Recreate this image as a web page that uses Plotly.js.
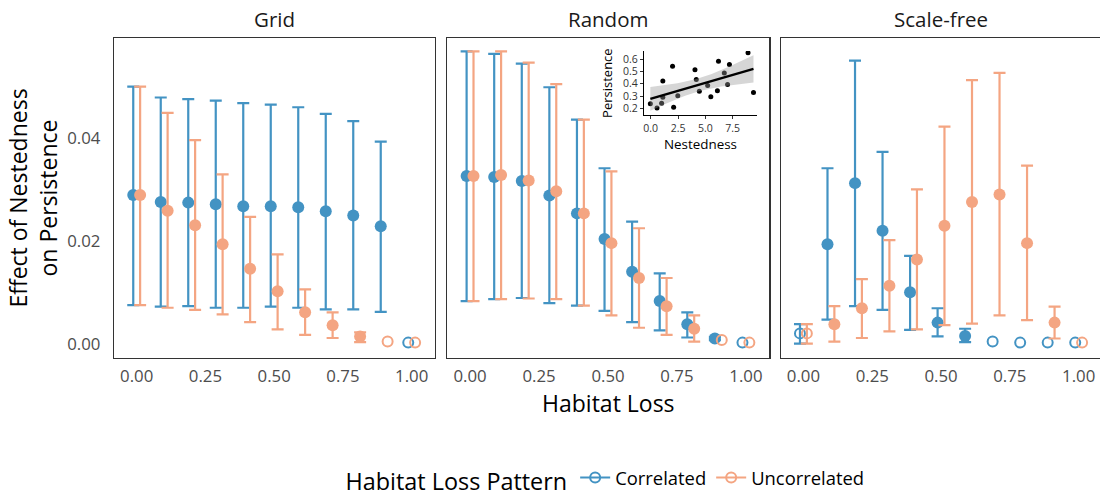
<!DOCTYPE html>
<html><head><meta charset="utf-8">
<script src="https://cdn.plot.ly/plotly-3.0.1.min.js"></script>
<style>html,body{margin:0;padding:0;overflow:hidden;background:#fff}#chart{width:1102px;height:497px}</style>
</head><body><div id="chart"></div>
<script>
// ---------- data ----------
const lossLevels = [0, 0.1, 0.2, 0.3, 0.4, 0.5, 0.6, 0.7, 0.8, 0.9, 1.0];
const xTickVals = [0, 0.25, 0.5, 0.75, 1.0];
const yTickVals = [0, 0.02, 0.04];
const panelNames = ['Grid', 'Random', 'Scale-free'];
const seriesNames = ['Correlated', 'Uncorrelated'];

// Grid
const gridCorrMean  = [0.0290,0.0276,0.0275,0.0272,0.0268,0.0268,0.0266,0.0258,0.0250,0.0229,0.0002];
const gridCorrUpper = [0.0501,0.0480,0.0477,0.0474,0.0469,0.0466,0.0461,0.0448,0.0434,0.0394,null];
const gridCorrLower = [0.0075,0.0072,0.0073,0.0070,0.0070,0.0072,0.0070,0.0067,0.0067,0.0062,null];
const gridCorrSig   = [1,1,1,1,1,1,1,1,1,1,0];
const gridUncMean   = [0.0290,0.0259,0.0231,0.0194,0.0146,0.0102,0.0061,0.0036,0.0014,0.0004,0.0002];
const gridUncUpper  = [0.0501,0.0450,0.0397,0.0330,0.0247,0.0174,0.0106,0.0061,0.0022,null,null];
const gridUncLower  = [0.0075,0.0070,0.0066,0.0057,0.0042,0.0028,0.0017,0.0011,0.0003,null,null];
const gridUncSig    = [1,1,1,1,1,1,1,1,1,0,0];

// Random
const randCorrMean  = [0.0327,0.0325,0.0317,0.0289,0.0254,0.0204,0.0140,0.0083,0.0038,0.0010,0.0002];
const randCorrUpper = [0.0570,0.0565,0.0546,0.0500,0.0437,0.0342,0.0238,0.0137,0.0061,0.0013,null];
const randCorrLower = [0.0083,0.0087,0.0089,0.0079,0.0074,0.0064,0.0042,0.0026,0.0012,0.0007,null];
const randCorrSig   = [1,1,1,1,1,1,1,1,1,1,0];
const randUncMean   = [0.0327,0.0329,0.0318,0.0297,0.0254,0.0196,0.0128,0.0073,0.0029,0.0007,0.0002];
const randUncUpper  = [0.0570,0.0570,0.0548,0.0506,0.0437,0.0336,0.0225,0.0128,0.0055,null,null];
const randUncLower  = [0.0083,0.0087,0.0088,0.0087,0.0074,0.0055,0.0031,0.0017,0.0004,null,null];
const randUncSig    = [1,1,1,1,1,1,1,1,1,0,0];

// Scale-free
const sfCorrMean  = [0.0020,0.0194,0.0313,0.0220,0.0100,0.0041,0.0015,0.0004,0.0002,0.0002,0.0002];
const sfCorrUpper = [0.0038,0.0342,0.0552,0.0374,0.0171,0.0069,0.0029,null,null,null,null];
const sfCorrLower = [0.0000,0.0047,0.0073,0.0066,0.0027,0.0014,0.0003,null,null,null,null];
const sfCorrSig   = [0,1,1,1,1,1,1,0,0,0,0];
const sfUncMean   = [0.0020,0.0038,0.0069,0.0113,0.0164,0.0230,0.0276,0.0291,0.0196,0.0041,0.0002];
const sfUncUpper  = [0.0038,0.0073,0.0126,0.0202,0.0301,0.0423,0.0514,0.0528,0.0347,0.0072,null];
const sfUncLower  = [0.0000,0.0004,0.0011,0.0024,0.0028,0.0036,0.0039,0.0055,0.0046,0.0010,null];
const sfUncSig    = [0,1,1,1,1,1,1,1,1,1,0];

// Inset: nestedness vs persistence
const nestedness  = [-0.03,0.58,1.00,1.11,1.11,2.00,2.10,2.48,4.05,4.17,4.45,5.21,5.50,6.10,6.20,6.73,7.03,7.20,8.90,9.40];
const persistence = [0.238,0.203,0.243,0.423,0.290,0.542,0.210,0.303,0.514,0.434,0.340,0.386,0.294,0.344,0.583,0.488,0.395,0.556,0.651,0.330];
const insetXTicks = [0, 2.5, 5, 7.5];
const insetYTicks = [0.2, 0.3, 0.4, 0.5, 0.6];

// ---------- styles ----------
const COL_CORR = '#4393C3';
const COL_UNC  = '#F4A582';
const DODGE = 0.0125;
const FONT = 'Open Sans, Noto Sans, sans-serif';

function seriesTraces(mean, upper, lower, sig, color, xa, ya, offset) {
  // groups: filled with bars, open with bars, open without bars
  const g = {fill:{x:[],y:[],p:[],m:[]}, openBar:{x:[],y:[],p:[],m:[]}, openNo:{x:[],y:[]}};
  for (let i = 0; i < lossLevels.length; i++) {
    const hasBar = upper[i] != null && lower[i] != null;
    const key = sig[i] ? 'fill' : (hasBar ? 'openBar' : 'openNo');
    const t = g[key];
    t.x.push(lossLevels[i] + offset);
    t.y.push(mean[i]);
    if (t.p) { t.p.push(upper[i] - mean[i]); t.m.push(mean[i] - lower[i]); }
  }
  const eb = (t) => ({type:'data', symmetric:false, array:t.p, arrayminus:t.m,
                      color:color, thickness:2.2, width:6});
  const filledMarker = {color:color, size:12, symbol:'circle'};
  const openMarker = {color:color, size:10, symbol:'circle-open', line:{color:color, width:2}};
  const out = [];
  if (g.fill.x.length) out.push({type:'scatter', mode:'markers', x:g.fill.x, y:g.fill.y, xaxis:xa, yaxis:ya,
     marker:filledMarker, error_y:eb(g.fill), showlegend:false, hoverinfo:'skip'});
  if (g.openBar.x.length) out.push({type:'scatter', mode:'markers', x:g.openBar.x, y:g.openBar.y, xaxis:xa, yaxis:ya,
     marker:openMarker, error_y:eb(g.openBar), showlegend:false, hoverinfo:'skip'});
  if (g.openNo.x.length) out.push({type:'scatter', mode:'markers', x:g.openNo.x, y:g.openNo.y, xaxis:xa, yaxis:ya,
     marker:openMarker, showlegend:false, hoverinfo:'skip'});
  return out;
}

const panels = [
  {xa:'x',  ya:'y',  c:[gridCorrMean,gridCorrUpper,gridCorrLower,gridCorrSig], u:[gridUncMean,gridUncUpper,gridUncLower,gridUncSig]},
  {xa:'x2', ya:'y2', c:[randCorrMean,randCorrUpper,randCorrLower,randCorrSig], u:[randUncMean,randUncUpper,randUncLower,randUncSig]},
  {xa:'x3', ya:'y3', c:[sfCorrMean,sfCorrUpper,sfCorrLower,sfCorrSig], u:[sfUncMean,sfUncUpper,sfUncLower,sfUncSig]}
];

let traces = [];
panels.forEach(p => {
  traces = traces.concat(seriesTraces(...p.c, COL_CORR, p.xa, p.ya, -DODGE));
  traces = traces.concat(seriesTraces(...p.u, COL_UNC, p.xa, p.ya, DODGE));
});

// legend-only traces
[[seriesNames[0], COL_CORR], [seriesNames[1], COL_UNC]].forEach(([nm, col]) => {
  traces.push({type:'scatter', mode:'lines+markers', x:[null], y:[null], xaxis:'x', yaxis:'y',
    name:nm, line:{color:col, width:2},
    marker:{color:col, size:10, symbol:'circle-open', line:{color:col, width:2}},
    showlegend:true, hoverinfo:'skip'});
});

// inset: points, fitted line with 95% CI ribbon
(function(){
  const n = nestedness.length;
  const mx = nestedness.reduce((a,b)=>a+b,0)/n;
  const my = persistence.reduce((a,b)=>a+b,0)/n;
  let sxx = 0, sxy = 0;
  for (let i=0;i<n;i++){ sxx += (nestedness[i]-mx)**2; sxy += (nestedness[i]-mx)*(persistence[i]-my); }
  const b = sxy/sxx, a = my - b*mx;
  let sse = 0;
  for (let i=0;i<n;i++){ sse += (persistence[i]-(a+b*nestedness[i]))**2; }
  const s = Math.sqrt(sse/(n-2));
  const tq = 2.100922; // t(0.975, df=18)
  const xmin = Math.min(...nestedness), xmax = Math.max(...nestedness);
  const fx=[], fy=[], up=[], lo=[];
  for (let k=0;k<=80;k++){
    const x = xmin + (xmax-xmin)*k/80;
    const yhat = a + b*x;
    const se = s*Math.sqrt(1/n + (x-mx)**2/sxx);
    fx.push(x); fy.push(yhat); up.push(yhat+tq*se); lo.push(yhat-tq*se);
  }
  traces.push({type:'scatter', mode:'markers', x:nestedness, y:persistence, xaxis:'x4', yaxis:'y4',
    marker:{color:'#000', size:5}, showlegend:false, hoverinfo:'skip'});
  traces.push({type:'scatter', mode:'lines', x:fx.concat(fx.slice().reverse()), y:up.concat(lo.slice().reverse()),
    xaxis:'x4', yaxis:'y4', fill:'toself', fillcolor:'rgba(153,153,153,0.4)', line:{width:0},
    showlegend:false, hoverinfo:'skip'});
  traces.push({type:'scatter', mode:'lines', x:fx, y:fy, xaxis:'x4', yaxis:'y4',
    line:{color:'#000', width:2.5}, showlegend:false, hoverinfo:'skip'});
})();

// ---------- layout ----------
const TICKSIZE = 16.8;
function mainX(domain, extra) {
  return Object.assign({domain:domain, range:[-0.0825, 1.0848], tickvals:xTickVals, tickformat:'.2f',
    showgrid:false, zeroline:false, showline:true, mirror:true, linecolor:'#333', linewidth:1.2,
    ticks:'', ticklabelstandoff:3, tickfont:{family:FONT, size:TICKSIZE, color:'#4d4d4d'}, fixedrange:true}, extra||{});
}
function mainY(anchor, showLabels, extra) {
  return Object.assign({domain:[0,1], anchor:anchor, range:[-0.0028, 0.0596], tickvals:yTickVals, tickformat:'.2f',
    showticklabels:showLabels, showgrid:false, zeroline:false, showline:true, mirror:true,
    linecolor:'#333', linewidth:1.2, ticks:'', ticklabelstandoff:9,
    tickfont:{family:FONT, size:TICKSIZE, color:'#4d4d4d'}, fixedrange:true}, extra||{});
}

const dom = [[0, 0.32490], [0.33735, 0.66326], [0.67480, 1]];

const layout = {
  width:1102, height:497,
  margin:{l:114, r:0, t:38, b:139, pad:0, autoexpand:false},
  paper_bgcolor:'#fff', plot_bgcolor:'#fff',
  font:{family:FONT, color:'#000'},
  showlegend:true,
  legend:{orientation:'h', x:0.4985, xanchor:'center', yref:'container', y:0.035, yanchor:'middle',
    title:{text:'Habitat Loss Pattern', side:'left', font:{family:FONT, size:23.4, color:'#000'}},
    font:{family:FONT, size:18.4, color:'#000'}, itemwidth:30, bgcolor:'rgba(0,0,0,0)'},
  xaxis: mainX(dom[0], {anchor:'y'}),
  xaxis2: mainX(dom[1], {anchor:'y2', title:{text:'Habitat Loss', font:{family:FONT, size:23, color:'#000'}, standoff:0}}),
  xaxis3: mainX(dom[2], {anchor:'y3'}),
  yaxis: mainY('x', true, {title:{text:'Effect of Nestedness<br>on Persistence', font:{family:FONT, size:23, color:'#000'}, standoff:3}}),
  yaxis2: mainY('x2', false),
  yaxis3: mainY('x3', false),
  xaxis4: {domain:[0.5364, 0.6508], anchor:'y4', range:[-0.613, 9.72], tickvals:insetXTicks, tickformat:'.1f',
    showgrid:false, zeroline:false, showline:true, mirror:false, linecolor:'#000', linewidth:1,
    ticks:'outside', ticklen:3, tickwidth:1, tickcolor:'#333', tickfont:{family:FONT, size:10.5, color:'#333'},
    title:{text:'Nestedness', font:{family:FONT, size:13.4, color:'#000'}, standoff:0}, fixedrange:true},
  yaxis4: {domain:[0.759, 0.959], anchor:'x4', range:[0.146, 0.665], tickvals:insetYTicks, tickformat:'.1f',
    showgrid:false, zeroline:false, showline:true, mirror:false, linecolor:'#000', linewidth:1,
    ticks:'outside', ticklen:3, tickwidth:1, tickcolor:'#333', tickfont:{family:FONT, size:10.5, color:'#333'},
    title:{text:'Persistence', font:{family:FONT, size:13, color:'#000'}, standoff:7}, fixedrange:true},
  annotations: panelNames.map((nm, i) => ({text:nm, xref:'paper', yref:'paper',
    x:(dom[i][0]+dom[i][1])/2, y:1.059, xanchor:'center', yanchor:'middle', showarrow:false,
    font:{family:FONT, size:20.5, color:'#1a1a1a'}}))
};

Plotly.newPlot('chart', traces, layout, {displayModeBar:false, staticPlot:true});
</script></body></html>
